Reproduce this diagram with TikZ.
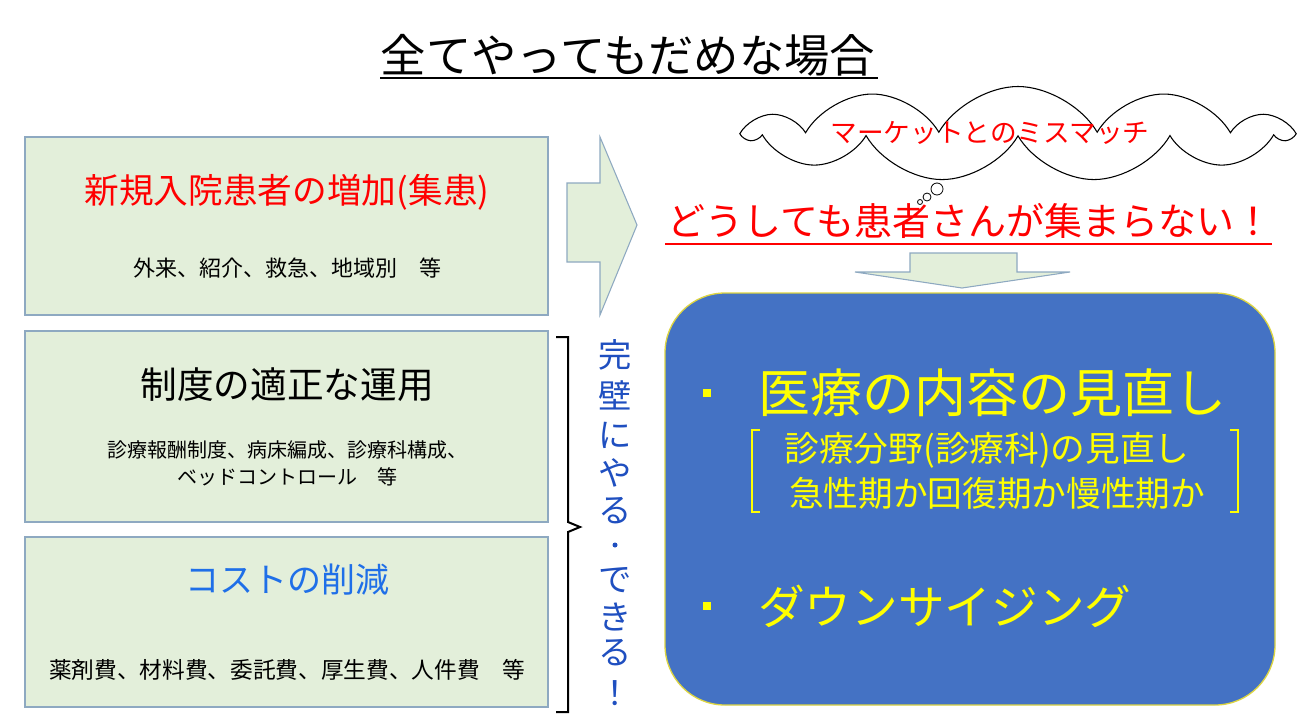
\documentclass[tikz,border=0pt]{standalone}
\usepackage{fontspec}
\setmainfont{Noto Sans CJK JP}
\usetikzlibrary{shapes.symbols}
\definecolor{boxg}{HTML}{E3EFDA}
\definecolor{boxb}{HTML}{8EA9C1}
\definecolor{panel}{HTML}{4472C4}
\definecolor{ylw}{HTML}{FFFF00}
\definecolor{vblue}{HTML}{1F4FC0}
\definecolor{cblue}{HTML}{1F6FE8}
\newcommand{\fz}[1]{\fontsize{#1pt}{#1pt}\selectfont}
\begin{document}
\begin{tikzpicture}[x=0.75pt,y=-0.75pt,
  gbox/.style={draw=boxb,fill=boxg,line width=0.8pt},
  txt/.style={inner sep=0pt,anchor=center}]
\useasboundingbox (0,0) rectangle (1301,724);
\fill[white] (0,0) rectangle (1301,724);
% title
\node[txt] (title) at (628,55) {\fz{34}全てやってもだめな場合};
\draw[line width=1.2pt] (380,78) -- (878,78);
% left boxes
\draw[gbox] (25,137) rectangle (548,315);
\draw[gbox] (25,331) rectangle (548,522);
\draw[gbox] (25,537) rectangle (548,707);
\node[txt,text=red] (h1) at (287,192) {\fz{26}新規入院患者の増加(集患)};
\node[txt] (s1) at (287,268) {\fz{16.5}外来、紹介、救急、地域別　等};
\node[txt] (h2) at (287,385) {\fz{27.5}制度の適正な運用};
\node[txt] (s2a) at (287,450) {\fz{15}診療報酬制度、病床編成、診療科構成、};
\node[txt] (s2b) at (287,477) {\fz{15}ベッドコントロール　等};
\node[txt,text=cblue] (h3) at (287,580) {\fz{25.5}コストの削減};
\node[txt] (s3) at (287,670) {\fz{17}薬剤費、材料費、委託費、厚生費、人件費　等};
% brace
\draw[line width=1.5pt] (556,337) -- (568,337) -- (568,522) -- (580,527) -- (568,532) -- (568,712) -- (556,712);
% vertical text
\foreach \c/\y in {完/355,壁/395,に/435,や/473,る/511,で/580,き/617,る/653,！/693}
  \node[txt,text=vblue] at (615,\y) {\fz{25}\c};
\fill[vblue] (615,545) circle (2.5*0.75pt);
% right arrow
\draw[gbox] (567,183) -- (600,183) -- (600,137) -- (637,225) -- (600,315) -- (600,262) -- (567,262) -- cycle;
% cloud
\node[cloud,draw,fill=white,cloud puffs=11,cloud puff arc=120,aspect=4.5,minimum width=540*0.75pt,minimum height=95*0.75pt,inner sep=0pt,line width=0.8pt] (cloud) at (1018,134) {};
\node[txt,text=red] (ct) at (990,133) {\fz{20}マーケットとのミスマッチ};
\draw[line width=0.6pt,fill=white] (937,189) circle (6*0.75pt);
\draw[line width=0.6pt,fill=white] (927,197) circle (4*0.75pt);
\draw[line width=0.6pt,fill=white] (920,202) circle (2.5*0.75pt);
% red text
\node[txt,text=red] (rt) at (970,221) {\fz{28.5}どうしても患者さんが集まらない！};
\draw[red,line width=1.8pt] (665,244) -- (1272,244);
% down arrow
\draw[gbox] (910,253) -- (1017,253) -- (1017,272) -- (1070,272) -- (962,288) -- (855,272) -- (910,272) -- cycle;
% panel
\draw[fill=panel,draw=yellow!70!gray,line width=1pt,rounded corners=45pt] (665,293) rectangle (1275,705);
\fill[ylw] (703,389) rectangle (711,397);
\node[txt,text=ylw,anchor=west] (m1) at (758,393) {\fz{39}医療の内容の見直し};
\node[txt,text=ylw] (l1) at (987,450) {\fz{26}診療分野(診療科)の見直し};
\node[txt,text=ylw] (l2) at (997,493) {\fz{26}急性期か回復期か慢性期か};
\draw[ylw,line width=1.2pt] (760,430) -- (752,430) -- (752,512) -- (760,512);
\draw[ylw,line width=1.2pt] (1230,430) -- (1238,430) -- (1238,512) -- (1230,512);
\fill[ylw] (703,602) rectangle (711,610);
\node[txt,text=ylw,anchor=west] (m2) at (758,606) {\fz{35}ダウンサイジング};
\end{tikzpicture}
\end{document}
